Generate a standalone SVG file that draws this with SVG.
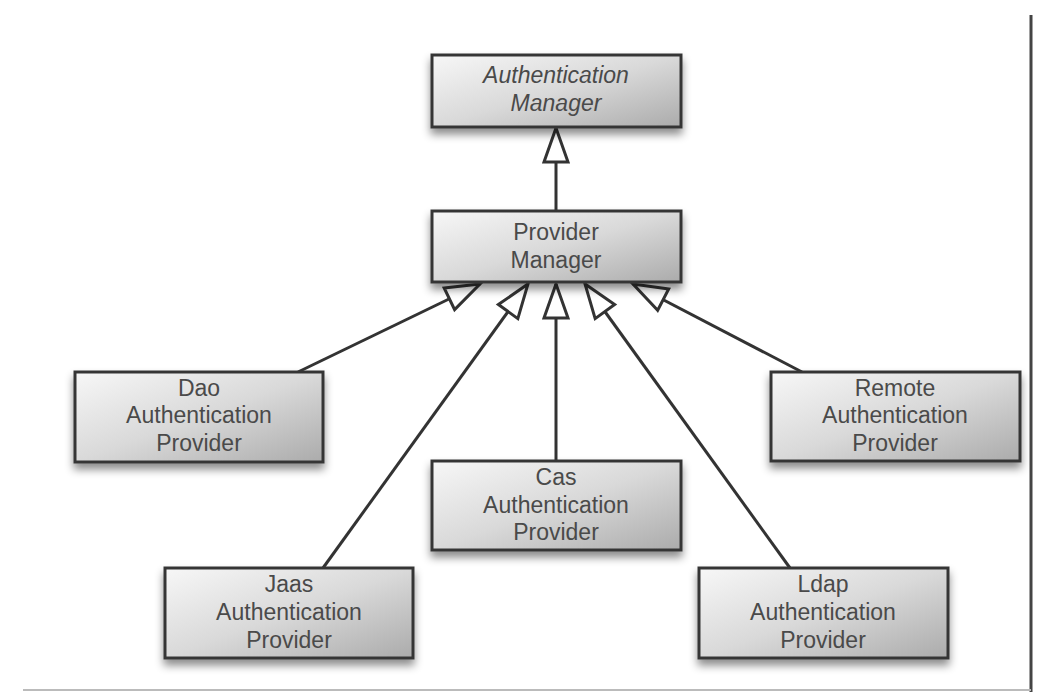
<svg xmlns="http://www.w3.org/2000/svg" width="1042" height="692" viewBox="0 0 1042 692">
  <defs>
    <linearGradient id="boxg" x1="0" y1="0" x2="1" y2="1">
      <stop offset="0" stop-color="#f7f7f7"/>
      <stop offset="0.5" stop-color="#d9d9d9"/>
      <stop offset="1" stop-color="#ababab"/>
    </linearGradient>
    <filter id="shadow" x="-10%" y="-20%" width="120%" height="160%">
      <feDropShadow dx="0" dy="6" stdDeviation="4" flood-color="#000" flood-opacity="0.45"/>
    </filter>
    <marker id="tri" markerUnits="userSpaceOnUse" markerWidth="40" markerHeight="30" viewBox="0 0 40 30" refX="37" refY="15" orient="auto">
      <path d="M3,3 L37,15 L3,27 Z" fill="#fff" stroke="#333" stroke-width="3" stroke-linejoin="miter"/>
    </marker>
  </defs>
  <style>
    .box { fill: url(#boxg); stroke: #363636; stroke-width: 3; filter: url(#shadow); }
    .lbl { font-family: "Liberation Sans", Arial, sans-serif; font-size: 23px; fill: #4a4a4a; text-anchor: middle; }
    .it { font-style: italic; }
    .edge { stroke: #333; stroke-width: 3; fill: none; marker-end: url(#tri); }
    .frame { stroke: #444; stroke-width: 3; fill: none; }
  </style>
  <rect width="1042" height="692" fill="#fff"/>
  <g id="frame">
    <line class="frame" x1="1031" y1="15" x2="1031" y2="692"/>
    <line x1="23" y1="690" x2="1031" y2="690" stroke="#bbb" stroke-width="2"/>
  </g>
  <g id="connectors">
    <line class="edge" x1="556" y1="211" x2="556" y2="128"/>
    <line class="edge" x1="298" y1="372" x2="480" y2="284"/>
    <line class="edge" x1="323" y1="568" x2="528" y2="284"/>
    <line class="edge" x1="556" y1="461" x2="556" y2="284"/>
    <line class="edge" x1="790" y1="568" x2="585" y2="284"/>
    <line class="edge" x1="802" y1="372" x2="633" y2="284"/>
  </g>
  <g id="authentication-manager">
    <rect class="box" x="432" y="55" width="249" height="72"/>
    <text class="lbl it" x="556" y="83">Authentication</text>
    <text class="lbl it" x="556" y="111">Manager</text>
  </g>
  <g id="provider-manager">
    <rect class="box" x="432" y="211" width="249" height="71"/>
    <text class="lbl" x="556" y="240">Provider</text>
    <text class="lbl" x="556" y="268">Manager</text>
  </g>
  <g id="dao-provider">
    <rect class="box" x="75" y="372" width="248" height="90"/>
    <text class="lbl" x="199" y="396">Dao</text>
    <text class="lbl" x="199" y="423">Authentication</text>
    <text class="lbl" x="199" y="451">Provider</text>
  </g>
  <g id="remote-provider">
    <rect class="box" x="771" y="372" width="249" height="89"/>
    <text class="lbl" x="895" y="396">Remote</text>
    <text class="lbl" x="895" y="423">Authentication</text>
    <text class="lbl" x="895" y="451">Provider</text>
  </g>
  <g id="cas-provider">
    <rect class="box" x="432" y="461" width="249" height="89"/>
    <text class="lbl" x="556" y="485">Cas</text>
    <text class="lbl" x="556" y="513">Authentication</text>
    <text class="lbl" x="556" y="540">Provider</text>
  </g>
  <g id="jaas-provider">
    <rect class="box" x="165" y="568" width="248" height="90"/>
    <text class="lbl" x="289" y="592">Jaas</text>
    <text class="lbl" x="289" y="620">Authentication</text>
    <text class="lbl" x="289" y="648">Provider</text>
  </g>
  <g id="ldap-provider">
    <rect class="box" x="699" y="568" width="249" height="90"/>
    <text class="lbl" x="823" y="592">Ldap</text>
    <text class="lbl" x="823" y="620">Authentication</text>
    <text class="lbl" x="823" y="648">Provider</text>
  </g>
</svg>
